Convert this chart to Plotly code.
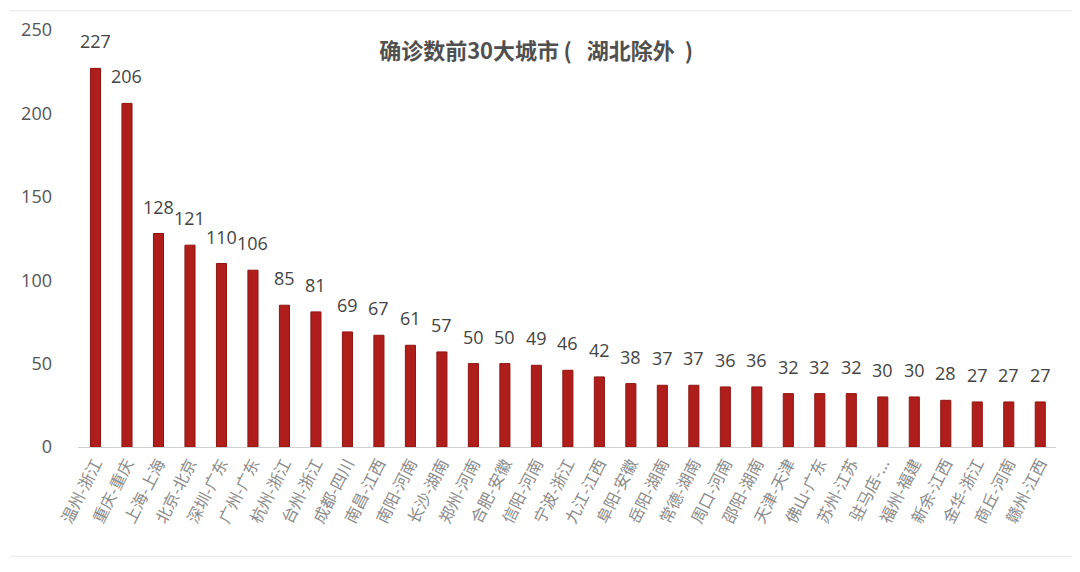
import plotly.graph_objects as go

cities = ["温州-浙江", "重庆-重庆", "上海-上海", "北京-北京", "深圳-广东", "广州-广东",
          "杭州-浙江", "台州-浙江", "成都-四川", "南昌-江西", "南阳-河南", "长沙-湖南",
          "郑州-河南", "合肥-安徽", "信阳-河南", "宁波-浙江", "九江-江西", "阜阳-安徽",
          "岳阳-湖南", "常德-湖南", "周口-河南", "邵阳-湖南", "天津-天津", "佛山-广东",
          "苏州-江苏", "驻马店-...", "福州-福建", "新余-江西", "金华-浙江", "商丘-河南",
          "赣州-江西"]
cases = [227, 206, 128, 121, 110, 106, 85, 81, 69, 67, 61, 57, 50, 50, 49, 46, 42,
         38, 37, 37, 36, 36, 32, 32, 32, 30, 30, 28, 27, 27, 27]
y_ticks = [0, 50, 100, 150, 200, 250]

fig = go.Figure()
fig.add_trace(go.Bar(
    x=cities, y=cases,
    width=0.32,
    marker=dict(color="#B01E1C", line=dict(color="#8E1412", width=1)),
))

# value labels sit well above the bars
for c, v in zip(cities, cases):
    fig.add_annotation(x=c, y=v, text=str(v), showarrow=False,
                       yanchor="bottom", yshift=13,
                       font=dict(size=18, color="#444444", family="Open Sans, Noto Sans"))

# faint frame lines from the screenshot
fig.add_shape(type="line", xref="paper", yref="paper", x0=-0.07, x1=1.03, y0=1.046, y1=1.046,
              line=dict(color="#E6E6E6", width=1))
fig.add_shape(type="line", xref="paper", yref="paper", x0=-0.07, x1=1.03, y0=-0.262, y1=-0.262,
              line=dict(color="#E6E6E6", width=1))

fig.update_layout(
    width=1080, height=572,
    paper_bgcolor="white", plot_bgcolor="white",
    margin=dict(l=70, r=32, t=22, b=133),
    showlegend=False,
    title=dict(text="<b>确诊数前30大城市\u2009(\u00a0\u00a0\u00a0湖北除外\u00a0\u00a0)</b>",
               x=0.489, xanchor="center", y=0.925, yanchor="middle",
               font=dict(size=22, color="#505050", family="Noto Sans CJK SC")),
    font=dict(family="Noto Sans CJK SC"),
)
fig.update_xaxes(
    tickangle=-63, showline=True, linecolor="#D0D0D0", linewidth=1,
    tickfont=dict(size=16, color="#8A8A8A", family="Noto Sans CJK SC"),
    ticks="", automargin=False,
)
fig.update_yaxes(
    range=[0, 250], tickvals=y_ticks, showgrid=False, zeroline=False,
    tickfont=dict(size=18, color="#555555", family="Open Sans, Noto Sans"),
    ticklabelstandoff=25, automargin=False,
)

fig.write_html("out.html")
